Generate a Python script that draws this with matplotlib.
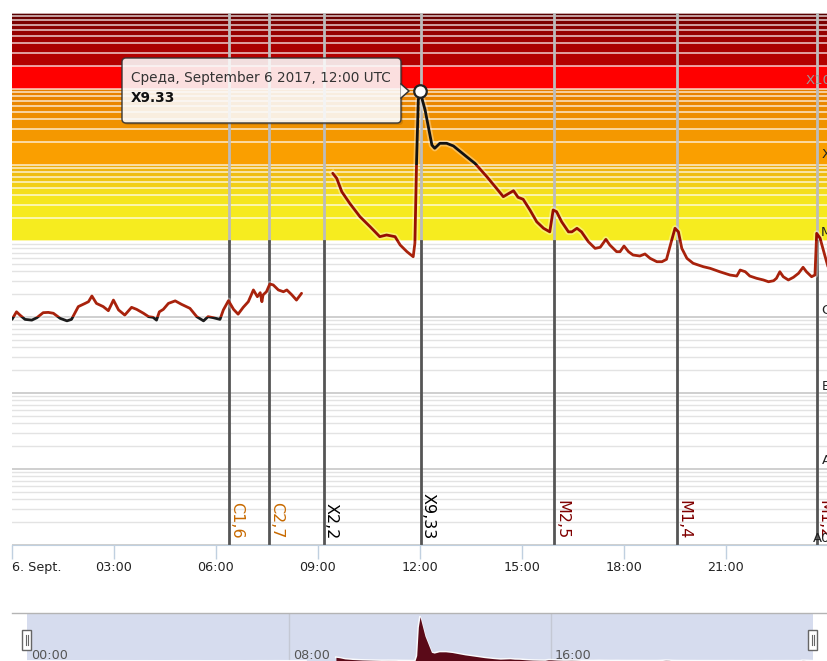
import matplotlib
matplotlib.use('Agg')
import matplotlib.pyplot as plt
import numpy as np
from matplotlib.patches import Rectangle, FancyBboxPatch, Polygon
from matplotlib.lines import Line2D

# ---------------- data ----------------
# GOES X-ray flux, 6 Sept 2017 (minutes after 00:00 UTC, W/m^2)
seg1_min = [0, 8, 14, 23, 35, 44, 55, 64, 73, 85, 97, 105, 117, 129, 135, 141, 149, 161, 170, 179,
            188, 199, 211, 220, 232, 241, 249, 255, 260, 267, 276, 288, 299, 314, 326, 338, 346, 355, 367, 373,
            382, 391, 399, 408, 417, 426, 433, 438, 441, 443, 449, 455, 461, 470, 479, 485, 494, 502, 511]
seg1_flux = [9.3e-7, 1.17e-6, 1.06e-6, 9.3e-7, 9.1e-7, 9.8e-7, 1.14e-6, 1.15e-6, 1.12e-6, 9.6e-7,
             8.9e-7, 9.3e-7, 1.37e-6, 1.51e-6, 1.59e-6, 1.89e-6, 1.51e-6, 1.37e-6, 1.21e-6, 1.67e-6,
             1.24e-6, 1.06e-6, 1.34e-6, 1.26e-6, 1.12e-6, 1.01e-6, 9.9e-7, 9.1e-7, 1.17e-6, 1.26e-6,
             1.51e-6, 1.63e-6, 1.47e-6, 1.30e-6, 1.01e-6, 8.9e-7, 1.01e-6, 9.8e-7, 9.3e-7, 1.24e-6,
             1.64e-6, 1.26e-6, 1.09e-6, 1.34e-6, 1.59e-6, 2.27e-6, 1.85e-6, 2.09e-6, 1.59e-6, 1.95e-6,
             2.15e-6, 2.72e-6, 2.64e-6, 2.27e-6, 2.15e-6, 2.27e-6, 1.95e-6, 1.67e-6, 2.05e-6]

seg2_min = [566, 573, 582, 596, 614, 632, 649, 661, 676, 685, 697, 708, 711, 714, 717, 720, 729, 741, 746, 755,
            767, 779, 802, 817, 838, 855, 867, 885, 893, 902, 914, 926, 938, 949, 955, 961, 970, 982, 988, 997,
            1005, 1017, 1029, 1038, 1048, 1055, 1067, 1073, 1080, 1088, 1096, 1108, 1117, 1126, 1138, 1147,
            1155, 1161, 1170, 1176, 1182, 1191, 1202, 1220, 1232, 1249, 1267, 1279, 1285, 1294, 1302, 1314,
            1326, 1335, 1344, 1349, 1355, 1361, 1370, 1379, 1388, 1396, 1402, 1411, 1417, 1420, 1426, 1435, 1440]
seg2_flux = [7.78e-5, 6.68e-5, 4.45e-5, 3.13e-5, 2.09e-5, 1.54e-5, 1.14e-5, 1.20e-5, 1.14e-5, 8.86e-6,
             7.23e-6, 6.21e-6, 9.4e-6, 1.16e-4, 7.16e-4, 9.33e-4, 5.29e-4, 1.83e-4, 1.66e-4, 1.93e-4,
             1.93e-4, 1.78e-4, 1.29e-4, 1.05e-4, 7.01e-5, 4.93e-5, 3.83e-5, 4.59e-5, 3.76e-5, 3.54e-5,
             2.56e-5, 1.79e-5, 1.47e-5, 1.32e-5, 2.56e-5, 2.43e-5, 1.79e-5, 1.32e-5, 1.32e-5, 1.47e-5,
             1.32e-5, 9.8e-6, 8.0e-6, 8.26e-6, 1.05e-5, 8.86e-6, 7.23e-6, 7.23e-6, 8.59e-6, 7.23e-6,
             6.54e-6, 6.35e-6, 6.75e-6, 5.92e-6, 5.34e-6, 5.34e-6, 5.74e-6, 8.41e-6, 1.47e-5, 1.32e-5,
             8.0e-6, 5.92e-6, 5.09e-6, 4.59e-6, 4.37e-6, 3.94e-6, 3.57e-6, 3.46e-6, 4.15e-6, 3.94e-6,
             3.46e-6, 3.23e-6, 3.07e-6, 2.91e-6, 3.00e-6, 3.23e-6, 3.94e-6, 3.39e-6, 3.07e-6, 3.33e-6,
             3.76e-6, 4.51e-6, 3.94e-6, 3.39e-6, 3.57e-6, 1.26e-5, 1.09e-5, 6.21e-6, 4.59e-6]

flare_times = ['06:23', '07:34', '09:11', '12:02', '15:57', '19:33', '23:41']
flare_labels = ['C1,6', 'C2,7', 'X2,2', 'X9,33', 'M2,5', 'M1,4', 'M1,2']

peak_time = '12:00'
peak_value = 9.33e-4
tooltip_line1 = 'Среда, September 6 2017, 12:00 UTC'
tooltip_line2 = 'X9.33'

xtick_hours = [0, 3, 6, 9, 12, 15, 18, 21]
xtick_labels = ['6. Sept.', '03:00', '06:00', '09:00', '12:00', '15:00', '18:00', '21:00']
class_labels = ['X10', 'X', 'M', 'C', 'B', 'A', 'A0']
class_values = [1e-3, 1e-4, 1e-5, 1e-6, 1e-7, 1e-8, 1e-9]
nav_hours = [0, 8, 16]
nav_labels = ['00:00', '08:00', '16:00']

# band colours per minor interval (k..k+1) x decade
yellow_cols = ['#f6ec1f', '#f6ea1e', '#f5e61d', '#f4de1b', '#f2cf16', '#f0c512', '#efbd10', '#eeb50e', '#edae0c']
orange_cols = ['#fa9f00', '#f49800', '#f09200', '#ee8e00', '#ec8a00', '#ea8600', '#e98300', '#e88100', '#e67e00']
red_cols = ['#ff0000', '#b40000', '#aa0000', '#a00000', '#960000', '#8a0000', '#7c0000', '#6c0000', '#580000']

# ---------------- figure ----------------
W, H = 828, 661
fig = plt.figure(figsize=(W / 100, H / 100), dpi=100)
plt.rcParams['font.family'] = ['DejaVu Sans']

ax = fig.add_axes([12 / W, 1 - 545 / H, 816 / W, 532 / H])
ax.set_yscale('log')
ax.set_ylim(1e-9, 1e-2)
ax.set_xlim(0, 24)
ax.set_facecolor('white')
for s in ['top', 'left', 'right']:
    ax.spines[s].set_visible(False)
ax.spines['bottom'].set_color('#c0d0e0')
ax.yaxis.set_major_locator(matplotlib.ticker.NullLocator())
ax.yaxis.set_minor_locator(matplotlib.ticker.NullLocator())

# colour bands
for dec, cols in zip([-5, -4, -3], [yellow_cols, orange_cols, red_cols]):
    for k in range(1, 10):
        ax.axhspan(k * 10.0 ** dec, (k + 1) * 10.0 ** dec, color=cols[k - 1], lw=0, zorder=0)

# grid lines
for dec in range(-9, -2):
    for k in range(1, 10):
        v = k * 10.0 ** dec
        if v >= 1e-5:
            ax.axhline(v, color='white', lw=1.1, alpha=0.8, zorder=1)
        elif k == 1:
            ax.axhline(v, color='#cfcfcf', lw=1.4, zorder=1)
        else:
            ax.axhline(v, color='#e3e3e3', lw=1.0, zorder=1)
ax.axhline(1e-2, color='white', lw=1.2, alpha=0.8, zorder=1)


def hm(s):
    h, m = s.split(':')
    return int(h) + int(m) / 60.0


def label_color(lbl):
    return {'C': '#c86a00', 'X': '#000000', 'M': '#800000'}[lbl[0]]


# flare marker lines + labels
frac_m = (np.log10(1e-5) + 9) / 7
for t, lbl in zip(flare_times, flare_labels):
    x = hm(t)
    ax.axvline(x, ymin=frac_m, ymax=1, color='#bcbcbc', lw=2, zorder=2)
    ax.axvline(x, ymin=0, ymax=frac_m, color='#555555', lw=2, zorder=2)
    ax.text(x + 2.6 / 34, 6 / 532, lbl, transform=ax.get_xaxis_transform(),
            rotation=-90, rotation_mode='anchor', ha='right', va='baseline',
            fontsize=11.5, color=label_color(lbl), zorder=3)

# main series
segments = [(np.array(seg1_min) / 60.0, np.array(seg1_flux)),
            (np.array(seg2_min) / 60.0, np.array(seg2_flux))]
zones = [(1e-9, 1e-6, '#1c1c1c'), (1e-6, 1e-5, '#a8220c'), (1e-5, 1e-4, '#960e02'), (1e-4, 1e-2, '#111111')]
for tt, ff in segments:
    ax.plot(tt, ff, color='white', lw=4.5, alpha=0.35, zorder=4, solid_joinstyle='round')
    for lo, hi, c in zones:
        ln, = ax.plot(tt, ff, color=c, lw=2.0, zorder=5, solid_joinstyle='round', solid_capstyle='round')
        y0 = (np.log10(lo) + 9) / 7
        y1 = (np.log10(hi) + 9) / 7
        r = Rectangle((0, y0), 1, y1 - y0, transform=ax.transAxes)
        ln.set_clip_path(r)

ax.plot([hm(peak_time)], [peak_value], 'o', ms=9, mfc='white', mec='#222222', mew=1.6, zorder=8)

# x axis
ax.set_xticks(xtick_hours)
ax.set_xticklabels(xtick_labels)
ax.tick_params(axis='x', length=10, width=1, color='#c0d0e0', labelsize=9.2, labelcolor='#222222', pad=1.5)
ax.get_xticklabels()[0].set_ha('left')
ax.tick_params(axis='y', which='both', left=False, labelleft=False)

# ---------------- navigator ----------------
nav = fig.add_axes([27 / W, 0, 786 / W, 48 / H])
nav.set_facecolor('#d6dcee')
nav.set_xlim(0, 24)
nav.set_ylim(0, 1.011e-3)
for s in nav.spines.values():
    s.set_visible(False)
nav.set_xticks([])
nav.set_yticks([])
for h in nav_hours[1:]:
    nav.axvline(h, color='#c4c8d4', lw=1)
for tt, ff in segments:
    nav.fill_between(tt, 0, ff, color='#5a0a18', lw=0, zorder=3)
    nav.plot(tt, ff, color='white', lw=1.4, alpha=0.9, zorder=2)

# ---------------- overlay (pixel coords) ----------------
ov = fig.add_axes([0, 0, 1, 1], zorder=10)
ov.set_xlim(0, W)
ov.set_ylim(H, 0)
ov.axis('off')
ov.patch.set_alpha(0)

# navigator top border & labels & handles
ov.add_line(Line2D([12, 828], [613, 613], color='#b4b4b4', lw=1))
for h, lbl in zip(nav_hours, nav_labels):
    px = 27 + h * 786 / 24
    ov.text(px + 4, 649, lbl, fontsize=9.2, color='#555555', ha='left', va='top')
for hx in [22.5, 808.5]:
    ov.add_patch(Rectangle((hx, 630), 9, 20, facecolor='white', edgecolor='#666666', lw=1))
    ov.add_line(Line2D([hx + 3.5, hx + 3.5], [635, 645], color='#666666', lw=0.8))
    ov.add_line(Line2D([hx + 5.5, hx + 5.5], [635, 645], color='#666666', lw=0.8))

# right-side class labels
class_py = [80, 155, 232, 310, 386, 461, 538]
class_px = [806, 822, 821, 821, 822, 822, 813]
for lbl, py, px in zip(class_labels, class_py, class_px):
    ov.text(px, py, lbl, fontsize=9.5, color='#999999' if lbl == 'X10' else '#222222',
            ha='left', va='center')

# tooltip
ov.add_patch(FancyBboxPatch((124, 60), 279, 65, boxstyle='round,pad=0,rounding_size=4',
                            facecolor='black', alpha=0.12, lw=0))
ov.add_patch(FancyBboxPatch((122, 58), 279, 65, boxstyle='round,pad=0,rounding_size=4',
                            facecolor='white', alpha=0.88, edgecolor='#333333', lw=1.1))
ov.add_patch(Polygon([(400.6, 84), (409, 91), (400.6, 98)], closed=True,
                     facecolor='white', alpha=0.95, lw=0))
ov.add_line(Line2D([401, 409, 401], [84, 91, 98], color='#333333', lw=1.1))
ov.text(131, 78, tooltip_line1, fontsize=9.8, color='#333333', ha='left', va='center')
ov.text(131, 98, tooltip_line2, fontsize=9.8, color='#111111', ha='left', va='center', fontweight='bold')

fig.savefig('out.png', dpi=100)
